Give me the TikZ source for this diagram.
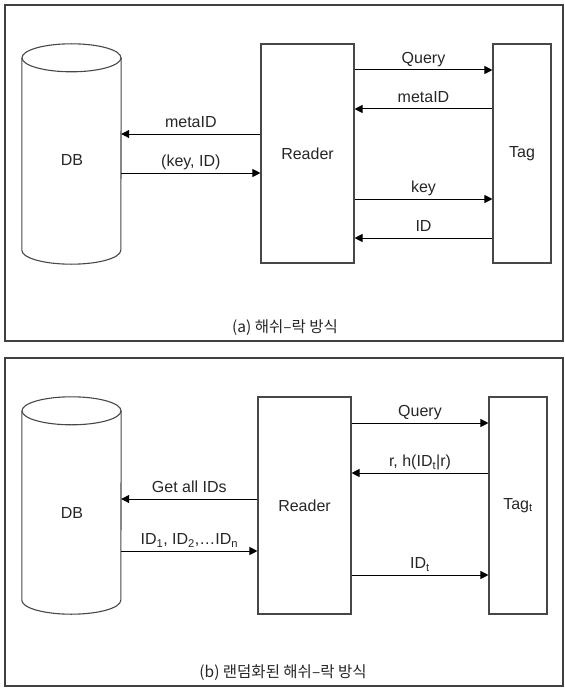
\documentclass[tikz,border=0pt]{standalone}
\usepackage{fontspec}
\setmainfont{Liberation Sans}
\newfontfamily\krfont{Noto Sans CJK KR}
\usetikzlibrary{arrows.meta,calc}
\newcommand{\lowidx}[1]{\textsubscript{#1}}
\begin{document}
\begin{tikzpicture}[x=1bp,y=-1bp,
  outline/.style={draw=black!72, line width=1.1bp},
  panel/.style={draw=black!75, line width=1.2bp},
  box/.style={outline, rectangle, inner sep=0pt, font=\fontsize{16bp}{19bp}\selectfont, text=black!85},
  dbarea/.style={rectangle, inner sep=0pt, minimum width=99bp},
  msg/.style={draw=black, line width=1bp, -{Triangle[length=8bp,width=8bp]}},
  lbl/.style={font=\fontsize{16bp}{19bp}\selectfont, text=black!85, anchor=base, yshift=6.5bp, inner sep=0pt},
  txt/.style={font=\fontsize{16bp}{19bp}\selectfont, text=black!85, inner sep=0pt},
  captiontext/.style={font=\krfont\fontsize{15.5bp}{18bp}\selectfont, text=black!85, inner sep=0pt}]
\useasboundingbox (0,0) rectangle (565,688);

% ---------------- panel (a) ----------------
\draw[panel] (5,5) rectangle (563,341);

\node[dbarea, minimum height=220bp] (dbA) at (71.5,154) {};
\draw[outline, fill=white] ($(dbA.north)+(0,14)$) ellipse [x radius=49.5, y radius=14];
\draw[outline] ($(dbA.north west)+(0,14)$) -- ($(dbA.south west)+(0,-14)$)
  arc[start angle=180, end angle=0, x radius=49.5, y radius=14]
  -- ($(dbA.north east)+(0,14)$);
\node[txt] (dbAtext) at (72,160) {DB};

\node[box, minimum width=93bp, minimum height=219bp] (rdA) at (307.5,153.5) {Reader};
\node[box, minimum width=58bp, minimum height=219bp] (tagA) at (522,153.5) {Tag};

\coordinate (a1) at (0,70);
\coordinate (a2) at (0,109);
\coordinate (a3) at (0,199);
\coordinate (a4) at (0,238);
\coordinate (a5) at (0,134);
\coordinate (a6) at (0,173);

\draw[msg] (rdA.east |- a1) -- (tagA.west |- a1) node[lbl, midway] {Query};
\draw[msg] (tagA.west |- a2) -- (rdA.east |- a2) node[lbl, midway] {metaID};
\draw[msg] (rdA.east |- a3) -- (tagA.west |- a3) node[lbl, midway] {key};
\draw[msg] (tagA.west |- a4) -- (rdA.east |- a4) node[lbl, midway] {ID};
\draw[msg] (rdA.west |- a5) -- (dbA.east |- a5) node[lbl, midway] {metaID};
\draw[msg] (dbA.east |- a6) -- (rdA.west |- a6) node[lbl, midway] {(key, ID)};

\node[captiontext] (capA) at (285,328) {(a) 해쉬–락 방식};

% ---------------- panel (b) ----------------
\draw[panel] (5,358) rectangle (563,686);

\node[dbarea, minimum height=217bp] (dbB) at (71.5,505.5) {};
\draw[outline, fill=white] ($(dbB.north)+(0,14)$) ellipse [x radius=49.5, y radius=14];
\draw[outline] ($(dbB.north west)+(0,14)$) -- ($(dbB.south west)+(0,-14)$)
  arc[start angle=180, end angle=0, x radius=49.5, y radius=14]
  -- ($(dbB.north east)+(0,14)$);
\node[txt] (dbBtext) at (72,513) {DB};

\node[box, minimum width=93bp, minimum height=217bp] (rdB) at (304.5,505.5) {Reader};
\node[box, minimum width=58bp, minimum height=217bp] (tagB) at (518,505.5) {Tag\lowidx{t}};

\coordinate (b1) at (0,423);
\coordinate (b2) at (0,473);
\coordinate (b3) at (0,575);
\coordinate (b4) at (0,499);
\coordinate (b5) at (0,551);

\draw[msg] (rdB.east |- b1) -- (tagB.west |- b1) node[lbl, midway] {Query};
\draw[msg] (tagB.west |- b2) -- (rdB.east |- b2) node[lbl, midway] {r, h(ID\lowidx{t}|r)};
\draw[msg] (rdB.east |- b3) -- (tagB.west |- b3) node[lbl, midway] {ID\lowidx{t}};
\draw[msg] (rdB.west |- b4) -- (dbB.east |- b4) node[lbl, midway] {Get all IDs};
\draw[msg] (dbB.east |- b5) -- (rdB.west |- b5) node[lbl, midway] {ID\lowidx{1}, ID\lowidx{2},\dots ID\lowidx{n}};

\node[captiontext] (capB) at (283,673) {(b) 랜덤화된 해쉬–락 방식};
\end{tikzpicture}
\end{document}
